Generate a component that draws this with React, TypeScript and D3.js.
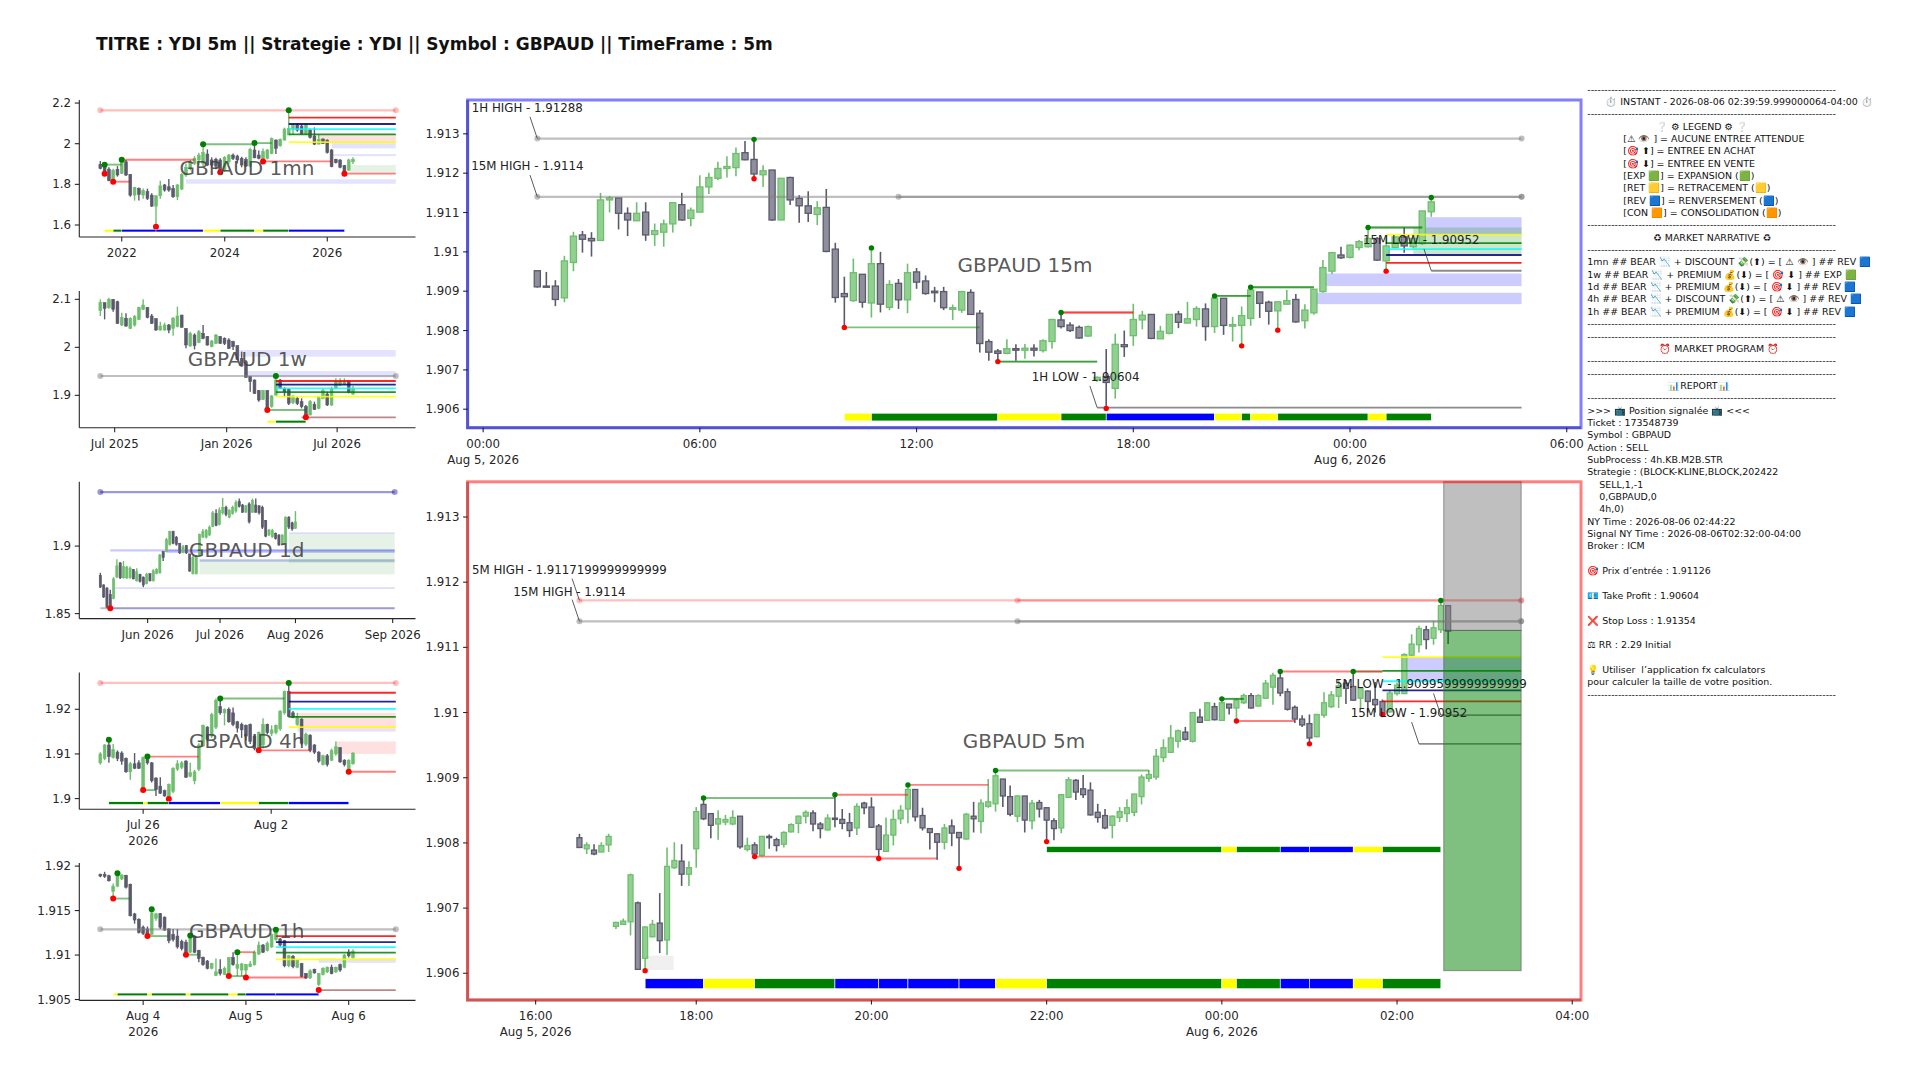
import * as d3 from "d3";

type Candle = number[]; // open, close, high, low
type Leg = [number, number, string];

const fontFamily = "'DejaVu Sans', 'Noto Sans', sans-serif";

const titleText =
  "TITRE : YDI 5m || Strategie : YDI || Symbol : GBPAUD || TimeFrame : 5m";

// ---------- 1mn ----------
const candles1mn: Candle[] = [
  [1.898,1.879,1.915,1.874],[1.89,1.859,1.903,1.841],[1.875,1.818,1.884,1.815],[1.825,1.87,1.877,1.813],[1.874,1.846,1.89,1.838],
  [1.854,1.911,1.923,1.851],[1.911,1.846,1.92,1.841],[1.849,1.747,1.849,1.739],[1.747,1.785,1.788,1.72],[1.78,1.751,1.785,1.72],
  [1.747,1.769,1.78,1.729],[1.764,1.731,1.779,1.723],[1.747,1.693,1.756,1.688],[1.693,1.744,1.747,1.597],[1.744,1.793,1.818,1.729],
  [1.797,1.772,1.802,1.764],[1.788,1.772,1.826,1.764],[1.78,1.739,1.797,1.734],[1.739,1.797,1.802,1.723],[1.777,1.849,1.854,1.772],
  [1.846,1.884,1.903,1.838],[1.879,1.911,1.92,1.87],[1.903,1.928,1.939,1.895],[1.92,1.944,1.956,1.895],[1.903,1.956,1.997,1.89],
  [1.949,1.895,1.972,1.89],[1.92,1.895,1.933,1.884],[1.923,1.89,1.931,1.874],[1.92,1.87,1.928,1.857],[1.87,1.933,1.939,1.862],
  [1.911,1.944,1.949,1.9],[1.944,1.928,1.952,1.92],[1.939,1.92,1.946,1.903],[1.928,1.895,1.936,1.884],[1.923,1.89,1.933,1.887],
  [1.89,1.972,1.98,1.884],[1.969,1.931,2.005,1.928],[1.944,1.928,1.966,1.923],[1.925,1.961,1.977,1.92],[1.928,1.969,1.974,1.923],
  [1.952,2.025,2.031,1.948],[2.018,1.977,2.021,1.949],[1.99,2.021,2.026,1.985],[2.018,2.072,2.079,2.015],[2.043,2.075,2.166,2.043],
  [2.072,2.089,2.097,2.043],[2.092,2.067,2.1,2.059],[2.087,2.048,2.097,2.043],[2.048,2.092,2.1,2.043],[2.067,2.031,2.075,2.026],
  [2.038,1.998,2.08,1.993],[1.998,2.021,2.043,1.997],[2.023,2.002,2.026,1.998],[2.018,1.956,2.021,1.952],[1.969,1.887,1.974,1.884],
  [1.923,1.907,1.926,1.903],[1.92,1.884,1.923,1.879],[1.892,1.859,1.895,1.854],[1.87,1.92,1.926,1.867],[1.911,1.923,1.933,1.9],
];
const yTicks1mn = [2.2, 2, 1.8, 1.6];
const xTicks1mn: [number, string][] = [[5, "2022"], [29.05, "2024"], [53, "2026"]];
const keyHighs1mn: [number, number, number, string][] = [[0, 69, 2.164, "pink"]];
const greenDots1mn = [[1,1.897],[5,1.921],[24,1.997],[36,2.003],[44,2.164]];
const redDots1mn = [[1,1.852],[3,1.813],[13,1.592],[28,1.859],[38,1.913],[57,1.852]];
const greenLines1mn = [[1,5,1.897],[24,36,1.997],[36,40,2.003]];
const redLines1mn = [[5,22,1.921],[3,7,1.813],[38,54,1.913],[57,69,1.853]];
const levels1mn = [2.128, 2.097, 2.072, 2.046, 2.008];
const blueZones1mn = [[20,69,1.825,1.803],[54,69,2.002,1.977],[54,69,1.949,1.939]];
const pinkZones1mn = [[51,69,2.043,2.002]];
const greenZones1mn = [[58,69,1.895,1.854]];
const legs1mn: Leg[] = [[1,3,"RET"],[3,5,"EXP"],[5,13,"REV"],[13,24,"REV"],[24,28,"RET"],[28,36,"EXP"],[36,38,"RET"],[38,44,"EXP"],[44,57,"REV"]];

// ---------- 1w ----------
const candles1w: Candle[] = [
  [2.0764,2.0931,2.1,2.0653],[2.0931,2.0813,2.0931,2.0583],[2.0826,2.1,2.1035,2.0806],[2.1,2.0792,2.1,2.0743],[2.0951,2.05,2.0972,2.0486],
  [2.0465,2.0625,2.0722,2.0444],[2.0604,2.0444,2.0708,2.0431],[2.0396,2.0604,2.0625,2.0382],[2.0465,2.0639,2.0674,2.0431],[2.0583,2.0833,2.0847,2.0569],
  [2.0792,2.0882,2.1,2.0778],[2.0833,2.0625,2.0833,2.0604],[2.0653,2.05,2.0694,2.0486],[2.0597,2.0361,2.0597,2.0347],[2.0361,2.0444,2.0535,2.0347],
  [2.0361,2.0465,2.0514,2.0347],[2.0465,2.0361,2.0486,2.0292],[2.0396,2.0611,2.0625,2.0243],[2.0431,2.0653,2.0847,2.0417],[2.0674,2.0417,2.0674,2.0417],
  [2.0389,2.0049,2.0396,1.9979],[2.0028,2.0292,2.0326,2.0014],[2.0257,2.0035,2.0292,1.9958],[2.0104,2.0326,2.0361,2.0083],[2.0292,2.0188,2.0465,2.0167],
  [2.0222,2.0049,2.0236,2.0035],[2.0014,2.0132,2.0153,2.0],[2.0083,2.0257,2.0278,2.0069],[2.0222,2.0083,2.0236,2.0069],[2.0188,2.0083,2.0208,2.0049],
  [2.0153,1.9979,2.0188,1.9965],[2.0118,2.0014,2.0139,1.9944],[2.0035,1.975,2.0035,1.9736],[1.9771,1.9611,1.991,1.9597],[1.9701,1.9375,1.9736,1.9368],
  [1.9389,1.9285,1.9403,1.9076],[1.9319,1.9042,1.9333,1.9028],[1.9097,1.8903,1.9111,1.8868],[1.8917,1.9097,1.9111,1.8903],[1.9097,1.8729,1.9111,1.8694],
  [1.8764,1.8986,1.9007,1.8743],[1.9007,1.9319,1.9424,1.8986],[1.9319,1.9146,1.934,1.9146],[1.9146,1.9076,1.9167,1.8972],[1.9125,1.8833,1.9146,1.8799],
  [1.8847,1.8972,1.9007,1.8819],[1.8938,1.8833,1.8972,1.8799],[1.8868,1.8764,1.8938,1.8729],[1.8764,1.859,1.8799,1.8542],[1.859,1.8868,1.8903,1.8583],
  [1.8812,1.8708,1.8868,1.8694],[1.8729,1.8972,1.8986,1.8708],[1.8938,1.9097,1.9146,1.8917],[1.9028,1.8799,1.9076,1.8778],[1.8799,1.9146,1.9181,1.8778],
  [1.9146,1.9285,1.9354,1.9125],[1.9215,1.9299,1.9354,1.9194],[1.9236,1.9285,1.9354,1.9215],[1.9285,1.9056,1.9319,1.9042],[1.9028,1.9146,1.9194,1.9007],
];
const yTicks1w = [2.1, 2, 1.9];
const xTicks1w: [number, string][] = [[3.35, "Jul 2025"], [29.5, "Jan 2026"], [55.3, "Jul 2026"]];
const keyHighs1w: [number, number, number, string][] = [[0, 69, 1.9403, "grey"]];
const keyLows1w: [number, number, number, string][] = [[47, 69, 1.8542, "brown"]];
const greenDots1w = [[41,1.9403]];
const redDots1w = [[39,1.8694],[48,1.8542]];
const greenLines1w = [[39,48,1.8694]];
const levels1w = [1.9299, 1.9222, 1.9146, 1.9069, 1.8972];
const blueZones1w = [[32,69,1.9944,1.9806],[34,69,1.9507,1.9375]];
const legs1w: Leg[] = [[39,41,"RET"],[41,48,"EXP"]];

// ---------- 1d ----------
const candles1d: Candle[] = [
  [1.8783,1.8696,1.8802,1.869],[1.8712,1.8624,1.8717,1.8616],[1.869,1.8545,1.8696,1.854],[1.8643,1.8545,1.8677,1.854],[1.8611,1.8757,1.877,1.8606],
  [1.877,1.8854,1.8902,1.8765],[1.8876,1.8765,1.8881,1.8757],[1.8765,1.8849,1.8889,1.8759],[1.8765,1.8844,1.8854,1.8757],[1.8765,1.8836,1.8849,1.8759],
  [1.8828,1.8757,1.8828,1.8754],[1.8743,1.881,1.8836,1.8738],[1.8791,1.8738,1.8796,1.873],[1.877,1.8712,1.8775,1.8696],[1.8722,1.8791,1.8802,1.8717],
  [1.8796,1.8743,1.8796,1.8738],[1.8743,1.8817,1.8828,1.8738],[1.8796,1.8828,1.8836,1.8791],[1.8802,1.8934,1.8942,1.8796],[1.896,1.8915,1.896,1.8889],
  [1.896,1.9048,1.9061,1.8955],[1.9013,1.9108,1.9114,1.9003],[1.9108,1.9021,1.9114,1.9013],[1.9066,1.9013,1.9074,1.9003],[1.9021,1.895,1.9021,1.8942],
  [1.8955,1.8995,1.9008,1.8947],[1.9003,1.895,1.9008,1.8942],[1.8942,1.8815,1.8942,1.881],[1.8794,1.8915,1.8929,1.8791],[1.8794,1.8915,1.8929,1.8791],
  [1.8929,1.9087,1.9093,1.8923],[1.9066,1.9108,1.9127,1.9061],[1.9066,1.9114,1.9127,1.9056],[1.9082,1.914,1.9153,1.9074],[1.9146,1.9246,1.9259,1.914],
  [1.9241,1.9153,1.9272,1.9146],[1.9161,1.9267,1.9286,1.9153],[1.9246,1.9286,1.9357,1.9233],[1.9286,1.9233,1.9299,1.922],[1.9214,1.9267,1.9272,1.9206],
  [1.9241,1.9286,1.9299,1.9233],[1.9259,1.9325,1.9339,1.9246],[1.9331,1.9294,1.9352,1.9286],[1.9304,1.9251,1.9312,1.9246],[1.9251,1.9299,1.9304,1.9246],
  [1.9312,1.918,1.9325,1.9167],[1.9251,1.9339,1.9352,1.9246],[1.9304,1.9251,1.9352,1.9246],[1.9299,1.9246,1.9299,1.9233],[1.9286,1.914,1.9299,1.9127],
  [1.9188,1.9074,1.9193,1.9066],[1.9082,1.9119,1.9127,1.9074],[1.9069,1.9114,1.9127,1.9061],[1.9093,1.9056,1.91,1.9048],[1.9082,1.9008,1.9087,1.9003],
  [1.9013,1.9082,1.9087,1.9008],[1.9026,1.9214,1.922,1.9021],[1.9214,1.914,1.922,1.9127],[1.9172,1.9127,1.918,1.9114],[1.9132,1.918,1.9259,1.9127],
];
const yTicks1d = [1.9, 1.85];
const xTicks1d: [number, string][] = [[14.3, "Jun 2026"], [36.2, "Jul 2026"], [59, "Aug 2026"], [88.4, "Sep 2026"]];
const keyHighs1d: [number, number, number, string][] = [[0, 89, 1.94, "blue"]];
const keyLows1d: [number, number, number, string][] = [[3, 89, 1.854, "blue"], [0, 3, 1.854, "grey"]];
const redDots1d = [[3,1.854]];
const blueZones1d = [[3,89,1.8976,1.896],[20,89,1.8974,1.895],[30,89,1.8902,1.8884],[4,89,1.8693,1.8685],[57,89,1.91,1.9093]];
const greenZones1d = [[30,89,1.8902,1.8791],[57,89,1.9093,1.8876]];

// ---------- 4h ----------
const candles4h: Candle[] = [
  [1.908,1.91,1.9104,1.9076],[1.909,1.912,1.9122,1.9086],[1.912,1.9094,1.9132,1.908],[1.9092,1.911,1.9122,1.909],[1.9104,1.909,1.9108,1.9084],
  [1.9102,1.9084,1.9106,1.9076],[1.909,1.906,1.9092,1.9058],[1.906,1.9078,1.9082,1.9042],[1.9078,1.9068,1.9102,1.9066],[1.908,1.9068,1.9086,1.9066],
  [1.902,1.9092,1.9094,1.9018],[1.9092,1.908,1.9096,1.9076],[1.908,1.904,1.9082,1.9036],[1.9046,1.902,1.9048,1.9006],[1.9028,1.9012,1.9048,1.901],
  [1.9018,1.9006,1.902,1.9004],[1.9004,1.9032,1.9034,1.9002],[1.9016,1.9068,1.907,1.9012],[1.9066,1.9078,1.9086,1.9062],[1.907,1.908,1.9084,1.9066],
  [1.9084,1.9048,1.9086,1.9046],[1.905,1.9058,1.908,1.9048],[1.904,1.906,1.9064,1.9032],[1.9066,1.912,1.9124,1.9062],[1.9118,1.9164,1.9166,1.9116],
  [1.916,1.9132,1.9162,1.9128],[1.914,1.9188,1.9192,1.9136],[1.916,1.922,1.9224,1.9156],[1.9206,1.9192,1.922,1.9188],[1.9192,1.92,1.9202,1.9164],
  [1.92,1.9172,1.9204,1.917],[1.9192,1.9166,1.9204,1.9162],[1.9172,1.9158,1.9174,1.9148],[1.9166,1.9154,1.917,1.9136],[1.9164,1.914,1.9166,1.913],
  [1.9166,1.9128,1.9168,1.9122],[1.914,1.9112,1.9144,1.9108],[1.9112,1.9148,1.915,1.9108],[1.912,1.9166,1.918,1.9112],[1.9166,1.9148,1.9168,1.9144],
  [1.9146,1.9154,1.9164,1.914],[1.9148,1.9164,1.9166,1.9144],[1.9156,1.9196,1.9198,1.9152],[1.9192,1.924,1.9242,1.9188],[1.924,1.9184,1.9258,1.9182],
  [1.9192,1.9182,1.9196,1.918],[1.9166,1.9184,1.9192,1.9163],[1.9178,1.9124,1.918,1.912],[1.9122,1.9144,1.9148,1.9118],[1.9142,1.9108,1.9144,1.9104],
  [1.912,1.9104,1.9122,1.91],[1.9104,1.9084,1.9106,1.908],[1.9076,1.9096,1.9098,1.9074],[1.9096,1.9076,1.91,1.9072],[1.9086,1.9108,1.9112,1.9084],
  [1.91,1.9116,1.9128,1.9096],[1.9114,1.9082,1.9115,1.908],[1.9086,1.9076,1.9088,1.9072],[1.9064,1.9086,1.9088,1.906],[1.9078,1.9102,1.9104,1.9076],
];
const yTicks4h = [1.92, 1.91, 1.9];
const xTicks4h: [number, string, string?][] = [[10, "Jul 26", "2026"], [39.9, "Aug 2"]];
const keyHighs4h: [number, number, number, string][] = [[0, 69, 1.9259, "pink"]];
const greenDots4h = [[2,1.9132],[11,1.9094],[28,1.9224],[44,1.9259]];
const redDots4h = [[10,1.9019],[16,1.8999],[37,1.9108],[58,1.906]];
const greenLines4h = [[10,13,1.9019],[28,43,1.9224]];
const redLines4h = [[11,23,1.9094],[37,49,1.9108],[58,69,1.906]];
const levels4h = [1.9237, 1.9217, 1.9201, 1.9183, 1.916];
const blueZones4h = [[46,69,1.9156,1.915]];
const pinkZones4h = [[46,69,1.9192,1.9156],[55,69,1.9128,1.91]];
const legs4h: Leg[] = [[2,10,"EXP"],[10,11,"RET"],[11,16,"EXP"],[16,28,"REV"],[28,37,"RET"],[37,44,"EXP"],[44,58,"REV"]];

// ---------- 1h ----------
const candles1h: Candle[] = [
  [1.91908,1.91888,1.91916,1.91875],[1.91908,1.91884,1.91936,1.91868],[1.91892,1.91835,1.91904,1.91827],[1.91715,1.91775,1.91803,1.91635],[1.91775,1.91904,1.91924,1.91763],
  [1.91855,1.919,1.91908,1.91843],[1.91896,1.91763,1.91904,1.91747],[1.91795,1.91442,1.91803,1.91434],[1.91462,1.91394,1.91474,1.91353],[1.91402,1.91253,1.91414,1.91241],
  [1.91313,1.91241,1.91333,1.91225],[1.91293,1.91233,1.91321,1.91213],[1.91233,1.91474,1.91522,1.91225],[1.91414,1.91462,1.91474,1.91386],[1.91466,1.91313,1.91474,1.91293],
  [1.91426,1.91281,1.91434,1.91273],[1.91293,1.91161,1.91301,1.91133],[1.91233,1.91173,1.91293,1.91153],[1.91213,1.91092,1.91293,1.91072],[1.91153,1.91072,1.91173,1.91052],
  [1.91145,1.91032,1.91173,1.91],[1.91032,1.91213,1.91241,1.91024],[1.91213,1.91032,1.91221,1.91024],[1.91052,1.9096,1.9106,1.9092],[1.90972,1.90892,1.90984,1.9088],
  [1.90932,1.90851,1.90944,1.90839],[1.90851,1.90904,1.90912,1.90839],[1.90771,1.90811,1.9096,1.90763],[1.90839,1.90791,1.90952,1.90771],[1.90783,1.90851,1.90871,1.90775],
  [1.90791,1.90972,1.90972,1.90771],[1.90972,1.90892,1.91032,1.9088],[1.90851,1.90892,1.91032,1.90763],[1.90831,1.909,1.90912,1.90763],[1.90831,1.90892,1.909,1.90751],
  [1.90871,1.909,1.90932,1.90863],[1.90892,1.91032,1.91052,1.9088],[1.91012,1.91112,1.91153,1.91],[1.91112,1.91032,1.91124,1.91024],[1.91052,1.91133,1.91153,1.9104],
  [1.91092,1.91233,1.91241,1.9108],[1.91173,1.91253,1.91293,1.91161],[1.91181,1.91112,1.91193,1.91092],[1.91161,1.9088,1.91169,1.90863],[1.9088,1.90992,1.91,1.90863],
  [1.90984,1.90871,1.91,1.90851],[1.90863,1.90944,1.90952,1.90851],[1.90904,1.90759,1.90912,1.90751],[1.90791,1.90743,1.90799,1.90731],[1.90743,1.90823,1.90839,1.90731],
  [1.90839,1.90799,1.90847,1.90791],[1.90671,1.90791,1.90799,1.90651],[1.90783,1.90851,1.90863,1.90771],[1.90811,1.90863,1.90871,1.90799],[1.90863,1.90791,1.90892,1.90783],
  [1.90811,1.90863,1.90871,1.90799],[1.90892,1.90831,1.90904,1.90811],[1.90863,1.91,1.91012,1.90851],[1.91032,1.90992,1.91064,1.90972],[1.90972,1.9104,1.91064,1.9096],
];
const yTicks1h = [1.92, 1.915, 1.91, 1.905];
const xTicks1h: [number, string, string?][] = [[10, "Aug 4", "2026"], [34, "Aug 5"], [58, "Aug 6"]];
const keyHighs1h: [number, number, number, string][] = [[0, 69, 1.91289, "grey"]];
const keyLows1h: [number, number, number, string][] = [[51, 69, 1.90606, "brown"]];
const greenDots1h = [[4,1.9192],[12,1.91514],[21,1.91221],[32,1.91032],[41,1.91285]];
const redDots1h = [[3,1.91635],[11,1.91213],[20,1.91004],[30,1.90763],[34,1.90747],[51,1.90606]];
const greenLines1h = [[3,7,1.91635],[11,16,1.91213],[20,23,1.91004],[30,34,1.90763]];
const redLines1h = [[32,36,1.91032],[34,48,1.90747]];
const levels1h = [1.91213, 1.91145, 1.91088, 1.91028, 1.90952];
const blueZones1h = [[51,69,1.9096,1.90912]];
const legs1h: Leg[] = [[3,4,"RET"],[4,11,"EXP"],[11,12,"RET"],[12,20,"EXP"],[20,21,"RET"],[21,30,"EXP"],[30,32,"RET"],[32,34,"EXP"],[34,41,"REV"],[41,51,"REV"]];

// ---------- 15m ----------
const candles15m: Candle[] = [
  [1.90952,1.90911,1.90952,1.90909],[1.90913,1.9091,1.90949,1.9091],[1.90913,1.90879,1.90928,1.90862],[1.90883,1.90977,1.9099,1.90872],[1.90973,1.9104,1.91051,1.90951],
  [1.91043,1.91032,1.91053,1.90998],[1.91034,1.91028,1.9105,1.90988],[1.91029,1.91132,1.9115,1.91029],[1.91132,1.91137,1.91142,1.911],[1.91137,1.91098,1.91137,1.91057],
  [1.91098,1.91081,1.91113,1.9104],[1.91079,1.91098,1.91126,1.91079],[1.91101,1.91043,1.91126,1.91028],[1.91044,1.91054,1.91072,1.91015],[1.9105,1.91071,1.91082,1.91013],
  [1.91071,1.91125,1.91127,1.91049],[1.9112,1.91081,1.9115,1.91079],[1.91085,1.91106,1.91113,1.91065],[1.91101,1.91165,1.91195,1.91101],[1.91165,1.91189,1.91201,1.91147],
  [1.91187,1.91212,1.91229,1.91182],[1.91212,1.91217,1.91243,1.91189],[1.91214,1.9125,1.91265,1.91192],[1.91252,1.91234,1.91282,1.91233],[1.91235,1.91198,1.91286,1.91186],
  [1.91196,1.91206,1.9122,1.91165],[1.91208,1.91081,1.91208,1.91079],[1.91081,1.91187,1.91187,1.91081],[1.91189,1.91132,1.91191,1.91119],[1.91136,1.91117,1.91144,1.91074],
  [1.91117,1.91098,1.91154,1.91076],[1.91095,1.91112,1.91129,1.91068],[1.91113,1.91001,1.9116,1.90999],[1.91007,1.90884,1.91023,1.90871],[1.90894,1.90886,1.90937,1.90808],
  [1.90876,1.90947,1.90983,1.90873],[1.90943,1.90872,1.90943,1.90858],[1.9087,1.9097,1.9101,1.90833],[1.9097,1.90867,1.91,1.90846],[1.90859,1.90917,1.90928,1.90852],
  [1.9092,1.90878,1.90931,1.90855],[1.90878,1.90947,1.9097,1.90844],[1.90949,1.90923,1.90959,1.90906],[1.90926,1.90894,1.9094,1.90891],[1.909,1.90896,1.90911,1.90872],
  [1.90899,1.90858,1.90911,1.90852],[1.90854,1.90858,1.90866,1.90827],[1.90852,1.90899,1.90901,1.90845],[1.90897,1.90841,1.90905,1.90841],[1.90844,1.90767,1.90852,1.90744],
  [1.90772,1.90745,1.90778,1.90723],[1.90748,1.90742,1.90753,1.90721],[1.90742,1.90754,1.90778,1.9074],[1.90754,1.9075,1.90765,1.90723],[1.9075,1.90755,1.90766,1.90728],
  [1.90755,1.9075,1.90765,1.90734],[1.90749,1.90774,1.90778,1.90744],[1.90772,1.90828,1.9083,1.90754],[1.90827,1.9081,1.90846,1.90805],[1.90814,1.908,1.90821,1.90796],
  [1.90808,1.90781,1.90813,1.90779],[1.90786,1.9081,1.90813,1.90784],[1.90674,1.90681,1.90683,1.9067],[1.90683,1.90668,1.90753,1.90602],[1.90653,1.90765,1.90792,1.90627],
  [1.90764,1.90759,1.908,1.90733],[1.90787,1.90828,1.90868,1.90761],[1.90827,1.90839,1.9085,1.90803],[1.90841,1.9078,1.90841,1.90778],[1.90779,1.90798,1.90812,1.90779],
  [1.90793,1.90841,1.90841,1.9079],[1.90842,1.90821,1.9085,1.90806],[1.90819,1.9083,1.90873,1.90818],[1.90828,1.90856,1.90862,1.9081],[1.90855,1.9081,1.90869,1.90774],
  [1.9081,1.90882,1.90888,1.90794],[1.90882,1.90813,1.90882,1.90789],[1.90811,1.90815,1.90835,1.90772],[1.90813,1.90838,1.90861,1.90761],[1.90831,1.90903,1.9091,1.90812],
  [1.90898,1.90869,1.90898,1.90832],[1.90872,1.90849,1.90876,1.90815],[1.9085,1.90873,1.90873,1.90801],[1.90867,1.90876,1.90903,1.90866],[1.90879,1.90822,1.90893,1.9082],
  [1.90825,1.90852,1.90867,1.90805],[1.90845,1.90905,1.90905,1.9084],[1.90899,1.9096,1.90979,1.90896],[1.90951,1.90998,1.90999,1.90944],[1.90992,1.90985,1.91013,1.90982],
  [1.90986,1.91017,1.91019,1.90983],[1.91011,1.91026,1.9103,1.91004],[1.91013,1.91034,1.91062,1.91011],[1.91034,1.90979,1.91038,1.90977],[1.90977,1.91015,1.91038,1.90951],
  [1.91011,1.91038,1.91038,1.91009],[1.91038,1.91015,1.91062,1.90998],[1.91013,1.91034,1.91038,1.91009],[1.91021,1.91104,1.91104,1.91017],[1.91102,1.91127,1.91138,1.91089],
];
const yTicks15m = [1.913, 1.912, 1.911, 1.91, 1.909, 1.908, 1.907, 1.906];
const xTicks15m: [number, string, string?][] = [[-6, "00:00", "Aug 5, 2026"], [18, "06:00"], [42, "12:00"], [66, "18:00"], [90, "00:00", "Aug 6, 2026"], [114, "06:00"]];
const keyHighs15m: [number, number, number, string][] = [[0,109,1.91288,"grey"],[0,109,1.9114,"grey"],[40,109,1.9114,"grey"]];
const keyLows15m: [number, number, number, string][] = [[62,109,1.90604,"darkGrey"],[99,109,1.90952,"darkGrey"]];
const greenDots15m = [[37,1.9101],[24,1.91286],[58,1.90846],[75,1.90888],[79,1.9091],[92,1.91062],[99,1.91138]];
const redDots15m = [[34,1.90808],[24,1.91186],[51,1.90721],[63,1.90602],[78,1.90761],[82,1.90801],[94,1.90951]];
const greenLines15m = [[34,49,1.90808],[51,62,1.90721],[51,62,1.90721],[75,79,1.90888],[75,79,1.90888],[79,86,1.9091],[79,86,1.9091],[92,98,1.91062],[92,98,1.91062]];
const redLines15m = [[58,66,1.90846],[58,66,1.90846]];
const levels15m = [1.90972, 1.90992, 1.91007, 1.91022, 1.91044];
const blueZones15m = [[87,109,1.90945,1.90913],[86,109,1.90896,1.90867],[98,109,1.91088,1.91043]];
const greenZones15m = [[97,109,1.91062,1.90994]];
const legs15m: Leg[] = [[34,37,"RET"],[37,51,"EXP"],[51,58,"RET"],[58,63,"EXP"],[63,75,"REV"],[75,78,"RET"],[78,79,"EXP"],[79,82,"RET"],[82,92,"EXP"],[92,94,"RET"],[94,99,"EXP"]];
const stripes15m = [[51,99,1.9057]];
const notes15m: [number, number, string, number, number][] = [
  [0, 1.91288, "1H HIGH - 1.91288", -10, -30.3],
  [0, 1.9114, "15M HIGH - 1.9114", -10, -30.6],
  [62, 1.90604, "1H LOW - 1.90604", -11.5, -30.3],
  [99, 1.90952, "15M LOW - 1.90952", -10, -30.6],
];

// ---------- 5m ----------
const candles5m: Candle[] = [
  [1.90808,1.90793,1.90814,1.90792],[1.90791,1.90797,1.90801,1.90783],[1.90789,1.90783,1.90798,1.90781],[1.90786,1.90796,1.90801,1.90786],[1.90797,1.9081,1.90814,1.90786],
  [1.90672,1.90678,1.90679,1.90668],[1.90675,1.9068,1.90684,1.90675],[1.90679,1.90751,1.90753,1.90658],[1.90708,1.90606,1.9071,1.90605],[1.90623,1.90671,1.90672,1.90604],
  [1.90656,1.90675,1.90682,1.90655],[1.90677,1.9065,1.90723,1.90631],[1.90651,1.90764,1.90793,1.90628],[1.90762,1.90773,1.90801,1.9076],[1.90772,1.90752,1.90798,1.90734],
  [1.90752,1.90762,1.90772,1.90734],
  [1.90791,1.90848,1.90855,1.90762],[1.90859,1.90837,1.9087,1.90835],[1.90845,1.90827,1.90845,1.90807],[1.90829,1.90837,1.9085,1.90805],[1.90832,1.90836,1.90843,1.90827],
  [1.90829,1.90839,1.9085,1.90827],[1.90841,1.90794,1.90841,1.90791],[1.9079,1.90796,1.90808,1.90787],[1.90797,1.90783,1.90801,1.90779],[1.90781,1.9081,1.9081,1.90779],
  [1.9081,1.90808,1.90813,1.90791],[1.90805,1.90796,1.90808,1.90787],[1.90798,1.90816,1.90818,1.90793],[1.90817,1.90828,1.9083,1.90816],[1.9083,1.90841,1.90842,1.90815],
  [1.90841,1.90847,1.9085,1.9083],[1.90846,1.90829,1.9085,1.90818],[1.90829,1.90822,1.90832,1.90807],[1.9082,1.90838,1.90844,1.90819],[1.90838,1.90836,1.90875,1.90824],
  [1.90836,1.9083,1.90852,1.90821],[1.90831,1.90819,1.90846,1.90809],[1.90823,1.90856,1.90861,1.90812],[1.90861,1.90854,1.90863,1.90844],[1.90855,1.90824,1.9087,1.90823],
  [1.90826,1.9079,1.90829,1.90776],[1.90787,1.90812,1.90839,1.90787],[1.90812,1.90836,1.90851,1.90796],[1.90837,1.9085,1.90858,1.90829],[1.90852,1.90882,1.90889,1.9083],
  [1.90882,1.9084,1.90882,1.90833],[1.90842,1.90823,1.90854,1.90819],[1.90822,1.90816,1.90823,1.9079],[1.90814,1.90801,1.90815,1.90774],[1.90801,1.90823,1.90829,1.9079],
  [1.90826,1.90815,1.90836,1.90795],[1.90816,1.90808,1.90816,1.90761],[1.90806,1.90844,1.90846,1.90805],[1.90841,1.90837,1.90863,1.90816],[1.90833,1.90861,1.90867,1.90815],
  [1.90856,1.90863,1.90898,1.90854],[1.9086,1.90903,1.90911,1.90848],[1.90898,1.90872,1.90898,1.90855],[1.90871,1.90844,1.90888,1.90841],[1.90841,1.90872,1.90873,1.90832],
  [1.90872,1.90835,1.90872,1.90816],[1.90834,1.90861,1.90866,1.90821],[1.90862,1.90852,1.90866,1.90839],[1.90854,1.90835,1.90854,1.90802],
  [1.90834,1.90822,1.90838,1.90804],[1.90823,1.90874,1.90875,1.90815],[1.9087,1.90897,1.90901,1.90869],[1.90896,1.90878,1.90898,1.90866],[1.90883,1.90874,1.90904,1.90869],
  [1.90881,1.90843,1.90893,1.90842],[1.90847,1.90839,1.9086,1.90831],[1.90842,1.90823,1.90852,1.90821],[1.90827,1.90841,1.90842,1.90807],[1.90839,1.90848,1.90855,1.90832],
  [1.90845,1.90854,1.90867,1.90832],[1.90847,1.90875,1.90875,1.90841],[1.90871,1.90901,1.90905,1.90859],[1.90899,1.90905,1.90912,1.90894],[1.90901,1.90933,1.90944,1.90897],
  [1.90931,1.90946,1.90959,1.90924],[1.90939,1.90961,1.90981,1.90938],[1.90956,1.90972,1.90974,1.90946],[1.9097,1.90959,1.90978,1.90957],[1.90956,1.91,1.91001,1.90954],
  [1.90993,1.90985,1.91006,1.90984],[1.90988,1.91015,1.91016,1.90987],[1.91009,1.90989,1.91015,1.90988],[1.90988,1.91015,1.91022,1.90988],[1.91013,1.91007,1.91013,1.90997],
  [1.91007,1.91019,1.91022,1.90987],[1.91015,1.91026,1.91029,1.91013],[1.91026,1.91007,1.9103,1.91006],[1.9101,1.91026,1.91028,1.91009],[1.91022,1.91045,1.9105,1.91021],
  [1.91039,1.91057,1.91061,1.91012],[1.91053,1.9103,1.91063,1.91025],[1.91032,1.91005,1.91037,1.91003],[1.91008,1.9099,1.91011,1.90984],[1.9099,1.90981,1.90996,1.90978],
  [1.90983,1.90961,1.90997,1.90952],[1.90963,1.90997,1.90998,1.90962],[1.90996,1.91015,1.91031,1.90992],[1.91009,1.91027,1.91033,1.91007],[1.91025,1.91041,1.91051,1.91007],
  [1.91045,1.91037,1.9105,1.91013],[1.9104,1.91019,1.91063,1.91018],[1.91022,1.91037,1.91038,1.91006],[1.91033,1.91017,1.91034,1.91],[1.9102,1.91012,1.91047,1.91],
  [1.91017,1.90996,1.9102,1.90996],[1.91001,1.9103,1.91034,1.91],[1.91029,1.91042,1.91046,1.91026],[1.91029,1.91089,1.91091,1.91029],[1.91088,1.91105,1.9112,1.91086],
  [1.91104,1.91129,1.91133,1.91092],[1.91127,1.91112,1.91133,1.91097],[1.91114,1.9113,1.91141,1.91104],[1.91127,1.91164,1.91168,1.91122],[1.91164,1.91125,1.91164,1.91105],
];
const yTicks5m = [1.913, 1.912, 1.911, 1.91, 1.909, 1.908, 1.907, 1.906];
const xTicks5m: [number, string, string?][] = [[-6, "16:00", "Aug 5, 2026"], [16, "18:00"], [40, "20:00"], [64, "22:00"], [88, "00:00", "Aug 6, 2026"], [112, "02:00"], [136, "04:00"]];
const keyHighs5m: [number, number, number, string][] = [[0,129,1.91172,"pink"],[60,129,1.91172,"pink"],[0,129,1.9114,"grey"],[60,129,1.9114,"grey"]];
const keyLows5m: [number, number, number, string][] = [[118,129,1.90996,"darkGrey"],[115,129,1.90952,"darkGrey"]];
const greenDots5m = [[17,1.90869],[35,1.90874],[45,1.90889],[57,1.90911],[88,1.91021],[96,1.91063],[106,1.91063],[118,1.91172]];
const redDots5m = [[24,1.90779],[41,1.90776],[52,1.90761],[9,1.90604],[64,1.90802],[90,1.90987],[100,1.90952],[110,1.90997]];
const greenLines5m = [[17,35,1.90869],[57,78,1.90911],[88,91,1.91021],[88,91,1.91021],[106,110,1.91063]];
const redLines5m = [[35,45,1.90874],[45,56,1.90889],[24,41,1.90779],[41,49,1.90776],[90,98,1.90987],[96,106,1.91063],[106,110,1.91063]];
const levels5m = [1.91017, 1.91034, 1.91048, 1.91064, 1.91085];
const blueZones5m = [[113,129,1.91085,1.91048]];
const paleZones5m = [[9,12.9,1.90627,1.90605]];
const legsLower5m: Leg[] = [[9,17,"REV"],[17,24,"RET"],[24,35,"EXP"],[35,41,"REV"],[41,45,"REV"],[45,52,"REV"],[52,57,"REV"],[57,64,"RET"],[64,88,"EXP"],[88,90,"RET"],[90,96,"EXP"],[96,100,"REV"],[100,106,"REV"],[106,110,"RET"],[110,118,"EXP"]];
const legsUpper5m: Leg[] = [[64,88,"EXP"],[88,90,"RET"],[90,96,"EXP"],[96,100,"REV"],[100,106,"REV"],[106,110,"RET"],[110,118,"EXP"]];
const notes5m: [number, number, string, number, number][] = [
  [0, 1.91172, "5M HIGH - 1.9117199999999999", -10, -30],
  [0, 1.9114, "15M HIGH - 1.9114", -10, -29.6],
  [118, 1.90996, "5M LOW - 1.9099599999999999", -10, -30.8],
  [115, 1.90952, "15M LOW - 1.90952", -10, -30.7],
];
const tradeBars = [118.4, 129];
const entryPrice = 1.91126;
const takeProfit = 1.90604;
const stopLoss = 1.91354;

// ---------- report ----------
const dash = "-".repeat(73);
const reportLines = [
  dash,
  "      ⏱️ INSTANT - 2026-08-06 02:39:59.999000064-04:00 ⏱️",
  dash,
  "                       ❔ ⚙ LEGEND ⚙ ❔",
  "            [⚠ 👁️ ] = AUCUNE ENTREE ATTENDUE",
  "            [🎯 ⬆] = ENTREE EN ACHAT",
  "            [🎯 ⬇] = ENTREE EN VENTE",
  "            [EXP 🟩] = EXPANSION (🟩)",
  "            [RET 🟨] = RETRACEMENT (🟨)",
  "            [REV 🟦] = RENVERSEMENT (🟦)",
  "            [CON 🟧] = CONSOLIDATION (🟧)",
  dash,
  "                      ♻ MARKET NARRATIVE ♻",
  dash,
  "1mn ## BEAR 📉 + DISCOUNT 💸(⬆) = [ ⚠ 👁️ ] ## REV 🟦",
  "1w ## BEAR 📉 + PREMIUM 💰(⬇) = [ 🎯 ⬇ ] ## EXP 🟩",
  "1d ## BEAR 📉 + PREMIUM 💰(⬇) = [ 🎯 ⬇ ] ## REV 🟦",
  "4h ## BEAR 📉 + DISCOUNT 💸(⬆) = [ ⚠ 👁️ ] ## REV 🟦",
  "1h ## BEAR 📉 + PREMIUM 💰(⬇) = [ 🎯 ⬇ ] ## REV 🟦",
  dash,
  dash,
  "                        ⏰ MARKET PROGRAM ⏰",
  dash,
  dash,
  "                           📊REPORT📊",
  dash,
  ">>> 📺 Position signalée 📺 <<<",
  "Ticket : 173548739",
  "Symbol : GBPAUD",
  "Action : SELL",
  "SubProcess : 4h.KB.M2B.STR",
  "Strategie : (BLOCK-KLINE,BLOCK,202422",
  "    SELL,1,-1",
  "    0,GBPAUD,0",
  "    4h,0)",
  "NY Time : 2026-08-06 02:44:22",
  "Signal NY Time : 2026-08-06T02:32:00-04:00",
  "Broker : ICM",
  "",
  "🎯 Prix d’entrée : 1.91126",
  "",
  "💶 Take Profit : 1.90604",
  "",
  "❌ Stop Loss : 1.91354",
  "",
  "⚖ RR : 2.29 Initial",
  "",
  "💡 Utiliser  l’application fx calculators",
  "pour calculer la taille de votre position.",
  dash,
];

const legColors: Record<string, string> = { EXP: "#008000", RET: "#ffff00", REV: "#0000ff" };
const levelColors = ["#ff0000", "#000080", "#00ffff", "#008000", "#ffff00"];
const keyColors: Record<string, string> = {
  pink: "rgba(255,0,0,0.25)",
  grey: "rgba(128,128,128,0.5)",
  darkGrey: "rgba(90,90,90,0.7)",
  blue: "rgba(0,0,160,0.4)",
  brown: "rgba(128,40,40,0.55)",
};
const axisColor = "#262626";

type PanelProps = {
  left: number;
  right: number;
  top: number;
  bottom: number;
  bars: number[];
  prices: number[];
  candles: Candle[];
  yTicks: number[];
  xTicks: [number, string, string?][];
  label: string;
  labelX: number;
  labelY: number;
  keyHighs?: [number, number, number, string][];
  keyLows?: [number, number, number, string][];
  greenDots?: number[][];
  redDots?: number[][];
  greenLines?: number[][];
  redLines?: number[][];
  levels?: number[];
  levelBars?: number[];
  blueZones?: number[][];
  blueAlpha?: number;
  pinkZones?: number[][];
  greenZones?: number[][];
  paleZones?: number[][];
  legRows?: [Leg[], number, number][];
  stripes?: number[][];
  notes?: [number, number, string, number, number][];
  frame?: string;
  trade?: boolean;
};

function Panel(p: PanelProps) {
  const x = d3.scaleLinear().domain(p.bars).range([p.left, p.right]);
  const y = d3.scaleLinear().domain(p.prices).range([p.bottom, p.top]);
  const large = !!p.frame;
  const step = x(1) - x(0);
  const bodyWidth = step * (large ? 0.68 : 0.66);
  const dotR = large ? 2.7 : 3;
  const zoneAlpha = p.blueAlpha ?? (large ? 0.2 : 0.11);

  const zone = (list: number[][] | undefined, color: string, alpha: number) =>
    (list ?? []).map((z, i) => (
      <rect
        key={`${color}${i}`}
        x={x(z[0])}
        width={x(z[1]) - x(z[0])}
        y={y(Math.max(z[2], z[3]))}
        height={Math.abs(y(z[2]) - y(z[3]))}
        fill={color}
        fillOpacity={alpha}
      />
    ));

  const segs = (list: number[][] | undefined, color: string) =>
    (list ?? []).map((s, i) => (
      <line
        key={`${color}${i}`}
        x1={x(s[0])}
        x2={x(s[1])}
        y1={y(s[2])}
        y2={y(s[2])}
        stroke={color}
        strokeOpacity={0.5}
        strokeWidth={1.9}
      />
    ));

  return (
    <g fontFamily={fontFamily}>
      {zone(p.blueZones, "#0000ff", zoneAlpha)}
      {zone(p.pinkZones, "#ff0000", 0.12)}
      {zone(p.greenZones, "#008000", large ? 0.2 : 0.1)}
      {zone(p.paleZones, "#808080", 0.12)}

      {/* candles */}
      {p.candles.map((c, i) => {
        const up = c[1] >= c[0];
        const edge = up ? "#6fbe6f" : "#5a5a6c";
        const fill = up ? "#92d092" : "#8e8e9c";
        const yTop = y(Math.max(c[0], c[1]));
        const yBot = y(Math.min(c[0], c[1]));
        return (
          <g key={i}>
            <line x1={x(i)} x2={x(i)} y1={y(c[2])} y2={y(c[3])} stroke={edge} strokeWidth={large ? 1.6 : 1.4} />
            <rect
              x={x(i) - bodyWidth / 2}
              width={bodyWidth}
              y={yTop}
              height={Math.max(yBot - yTop, 0.8)}
              fill={large ? fill : edge}
              stroke={edge}
              strokeWidth={large ? 1.3 : 0.6}
            />
          </g>
        );
      })}

      {segs(p.greenLines, "#008000")}
      {segs(p.redLines, "#ff0000")}

      {/* key highs and lows */}
      {(p.keyHighs ?? []).map((k, i) => (
        <g key={i} fill={keyColors[k[3]]}>
          <line x1={x(k[0])} x2={x(k[1])} y1={y(k[2])} y2={y(k[2])} stroke={keyColors[k[3]]} strokeWidth={2.2} />
          <circle cx={x(k[0])} cy={y(k[2])} r={3} />
          <circle cx={x(k[1])} cy={y(k[2])} r={3} />
        </g>
      ))}
      {(p.keyLows ?? []).map((k, i) => (
        <line key={i} x1={x(k[0])} x2={x(k[1])} y1={y(k[2])} y2={y(k[2])} stroke={keyColors[k[3]]} strokeWidth={1.9} />
      ))}

      {/* structure levels */}
      {p.levelBars &&
        (p.levels ?? []).map((l, i) => (
          <line
            key={i}
            x1={x(p.levelBars![0])}
            x2={x(p.levelBars![1])}
            y1={y(l)}
            y2={y(l)}
            stroke={levelColors[i]}
            strokeOpacity={0.85}
            strokeWidth={1.8}
          />
        ))}

      {(p.greenDots ?? []).map((d, i) => (
        <circle key={i} cx={x(d[0])} cy={y(d[1])} r={dotR} fill="#008000" />
      ))}
      {(p.redDots ?? []).map((d, i) => (
        <circle key={i} cx={x(d[0])} cy={y(d[1])} r={dotR} fill="#ff0000" />
      ))}

      {/* leg bars */}
      {(p.legRows ?? []).map(([legs, price, h], r) =>
        legs.map((l, i) => (
          <rect
            key={`${r}-${i}`}
            x={x(l[0])}
            width={x(l[1]) - x(l[0])}
            y={y(price) - h / 2}
            height={h}
            fill={legColors[l[2]]}
            stroke="#fff"
            strokeWidth={large ? 0.6 : 0.3}
          />
        )),
      )}
      {(p.stripes ?? []).map((s, i) => (
        <line key={i} x1={x(s[0])} x2={x(s[1])} y1={y(s[2])} y2={y(s[2])} stroke="#fff" strokeWidth={1} />
      ))}

      {/* take profit and stop loss boxes */}
      {p.trade && (
        <g stroke="rgba(90,90,90,0.6)" strokeWidth={1}>
          <rect
            x={x(tradeBars[0])}
            width={x(tradeBars[1]) - x(tradeBars[0])}
            y={y(stopLoss)}
            height={y(entryPrice) - y(stopLoss)}
            fill="rgba(128,128,128,0.5)"
          />
          <rect
            x={x(tradeBars[0])}
            width={x(tradeBars[1]) - x(tradeBars[0])}
            y={y(entryPrice)}
            height={y(takeProfit) - y(entryPrice)}
            fill="rgba(0,128,0,0.5)"
          />
        </g>
      )}

      <text
        x={p.labelX}
        y={p.labelY}
        textAnchor="middle"
        dominantBaseline="central"
        fontSize={20}
        fill="#444"
        fillOpacity={0.9}
      >
        {p.label}
      </text>

      {/* annotations */}
      {(p.notes ?? []).map((n, i) => (
        <g key={i}>
          <path
            d={`M${x(n[0]) - 7.3},${y(n[1]) - 21.7}L${x(n[0])},${y(n[1])}`}
            stroke="#333"
            strokeWidth={0.8}
            fill="none"
          />
          <text
            x={x(n[0]) + n[3]}
            y={y(n[1]) + n[4]}
            textAnchor="middle"
            dominantBaseline="central"
            fontSize={11.8}
            fill="#222"
          >
            {n[2]}
          </text>
        </g>
      ))}

      {/* axes */}
      <g stroke={axisColor} strokeWidth={1.1}>
        {!large && <line x1={p.left} x2={p.left} y1={p.top} y2={p.bottom} />}
        {!large && <line x1={p.left} x2={p.right} y1={p.bottom} y2={p.bottom} />}
        {p.yTicks.map((t) => (
          <line key={t} x1={p.left - 4.5} x2={p.left} y1={y(t)} y2={y(t)} />
        ))}
        {p.xTicks.map((t) => (
          <line key={t[1]} x1={x(t[0])} x2={x(t[0])} y1={p.bottom} y2={p.bottom + 4.5} />
        ))}
      </g>
      {p.yTicks.map((t) => (
        <text
          key={t}
          x={p.left - 8.2}
          y={y(t)}
          textAnchor="end"
          dominantBaseline="central"
          fontSize={11.8}
          fill={axisColor}
        >
          {String(t)}
        </text>
      ))}
      {p.xTicks.map((t) => (
        <g key={t[1]} textAnchor="middle" fontSize={11.8} fill={axisColor}>
          <text x={x(t[0])} y={p.bottom + 16} dominantBaseline="central">
            {t[1]}
          </text>
          {t[2] && (
            <text x={x(t[0])} y={p.bottom + 31.8} dominantBaseline="central">
              {t[2]}
            </text>
          )}
        </g>
      ))}

      {/* frame */}
      {p.frame && (
        <g fill="none" strokeWidth={3}>
          <path
            d={`M${p.left},${p.top}V${p.bottom}H${p.right}`}
            stroke="rgba(0,0,0,0.35)"
          />
          <rect
            x={p.left}
            y={p.top}
            width={p.right - p.left}
            height={p.bottom - p.top}
            stroke={p.frame}
          />
        </g>
      )}
    </g>
  );
}

export default function App() {
  const smallBars = [-4.91, 73.6];
  return (
    <svg
      width={1920}
      height={1080}
      style={{ position: "absolute", left: 0, top: 0, background: "#fff" }}
    >
      <text
        x={96}
        y={44}
        fontFamily={fontFamily}
        fontWeight="bold"
        fontSize={17}
        dominantBaseline="central"
        fill="#111"
      >
        {titleText}
      </text>

      <Panel left={79.3} right={415.5} top={100} bottom={237} bars={smallBars} prices={[1.541, 2.215]}
        candles={candles1mn} yTicks={yTicks1mn} xTicks={xTicks1mn} label="GBPAUD 1mn" labelX={247} labelY={168}
        keyHighs={keyHighs1mn} greenDots={greenDots1mn} redDots={redDots1mn} greenLines={greenLines1mn} redLines={redLines1mn}
        levels={levels1mn} levelBars={[44, 69]} blueZones={blueZones1mn} pinkZones={pinkZones1mn} greenZones={greenZones1mn}
        legRows={[[legs1mn, 1.572, 2.4]]} />

      <Panel left={79.3} right={415.5} top={291} bottom={427.7} bars={smallBars} prices={[1.8326, 2.1174]}
        candles={candles1w} yTicks={yTicks1w} xTicks={xTicks1w} label="GBPAUD 1w" labelX={247.3} labelY={358.5}
        keyHighs={keyHighs1w} keyLows={keyLows1w} greenDots={greenDots1w} redDots={redDots1w} greenLines={greenLines1w}
        levels={levels1w} levelBars={[41, 69]} blueZones={blueZones1w} legRows={[[legs1w, 1.8451, 2.4]]} />

      <Panel left={79.3} right={415.5} top={481.8} bottom={618.6} bars={[-6.36, 95.3]} prices={[1.8463, 1.9476]}
        candles={candles1d} yTicks={yTicks1d} xTicks={xTicks1d} label="GBPAUD 1d" labelX={246.7} labelY={550}
        keyHighs={keyHighs1d} keyLows={keyLows1d} redDots={redDots1d} blueZones={blueZones1d} blueAlpha={0.22} greenZones={greenZones1d} />

      <Panel left={79.3} right={415.5} top={672.5} bottom={809.3} bars={smallBars} prices={[1.8976, 1.92824]}
        candles={candles4h} yTicks={yTicks4h} xTicks={xTicks4h} label="GBPAUD 4h" labelX={246.7} labelY={740.7}
        keyHighs={keyHighs4h} greenDots={greenDots4h} redDots={redDots4h} greenLines={greenLines4h} redLines={redLines4h}
        levels={levels4h} levelBars={[44, 69]} blueZones={blueZones4h} pinkZones={pinkZones4h} legRows={[[legs4h, 1.899, 2.4]]} />

      <Panel left={79.3} right={415.5} top={862.9} bottom={1000.4} bars={smallBars} prices={[1.9049, 1.92036]}
        candles={candles1h} yTicks={yTicks1h} xTicks={xTicks1h} label="GBPAUD 1h" labelX={246.7} labelY={931.4}
        keyHighs={keyHighs1h} keyLows={keyLows1h} greenDots={greenDots1h} redDots={redDots1h} greenLines={greenLines1h} redLines={redLines1h}
        levels={levels1h} levelBars={[41, 69]} blueZones={blueZones1h} legRows={[[legs1h, 1.90558, 2.4]]} />

      <Panel left={467.6} right={1581} top={100} bottom={427.7} bars={[-7.72, 115.58]} prices={[1.90553, 1.91386]}
        candles={candles15m} yTicks={yTicks15m} xTicks={xTicks15m} label="GBPAUD 15m" labelX={1025} labelY={264.5}
        keyHighs={keyHighs15m} keyLows={keyLows15m} greenDots={greenDots15m} redDots={redDots15m} greenLines={greenLines15m} redLines={redLines15m}
        levels={levels15m} levelBars={[94, 109]} blueZones={blueZones15m} greenZones={greenZones15m}
        legRows={[[legs15m, 1.9058, 7.7]]} stripes={stripes15m} notes={notes15m} frame="rgba(0,0,255,0.5)" />

      <Panel left={467.6} right={1581} top={481.8} bottom={1000} bars={[-15.32, 137.2]} prices={[1.90559, 1.91354]}
        candles={candles5m} yTicks={yTicks5m} xTicks={xTicks5m} label="GBPAUD 5m" labelX={1024} labelY={741}
        keyHighs={keyHighs5m} keyLows={keyLows5m} greenDots={greenDots5m} redDots={redDots5m} greenLines={greenLines5m} redLines={redLines5m}
        levels={levels5m} levelBars={[110, 129]} blueZones={blueZones5m} paleZones={paleZones5m}
        legRows={[[legsLower5m, 1.90584, 10], [legsUpper5m, 1.9079, 6]]} notes={notes5m} frame="rgba(255,0,0,0.5)" trade />

      <g fontFamily={fontFamily} fontSize={9.45} fill="#111">
        {reportLines.map((line, i) => (
          <text key={i} x={1587.3} y={89 + i * 12.35} dominantBaseline="central" style={{ whiteSpace: "pre" }}>
            {line}
          </text>
        ))}
      </g>
    </svg>
  );
}
